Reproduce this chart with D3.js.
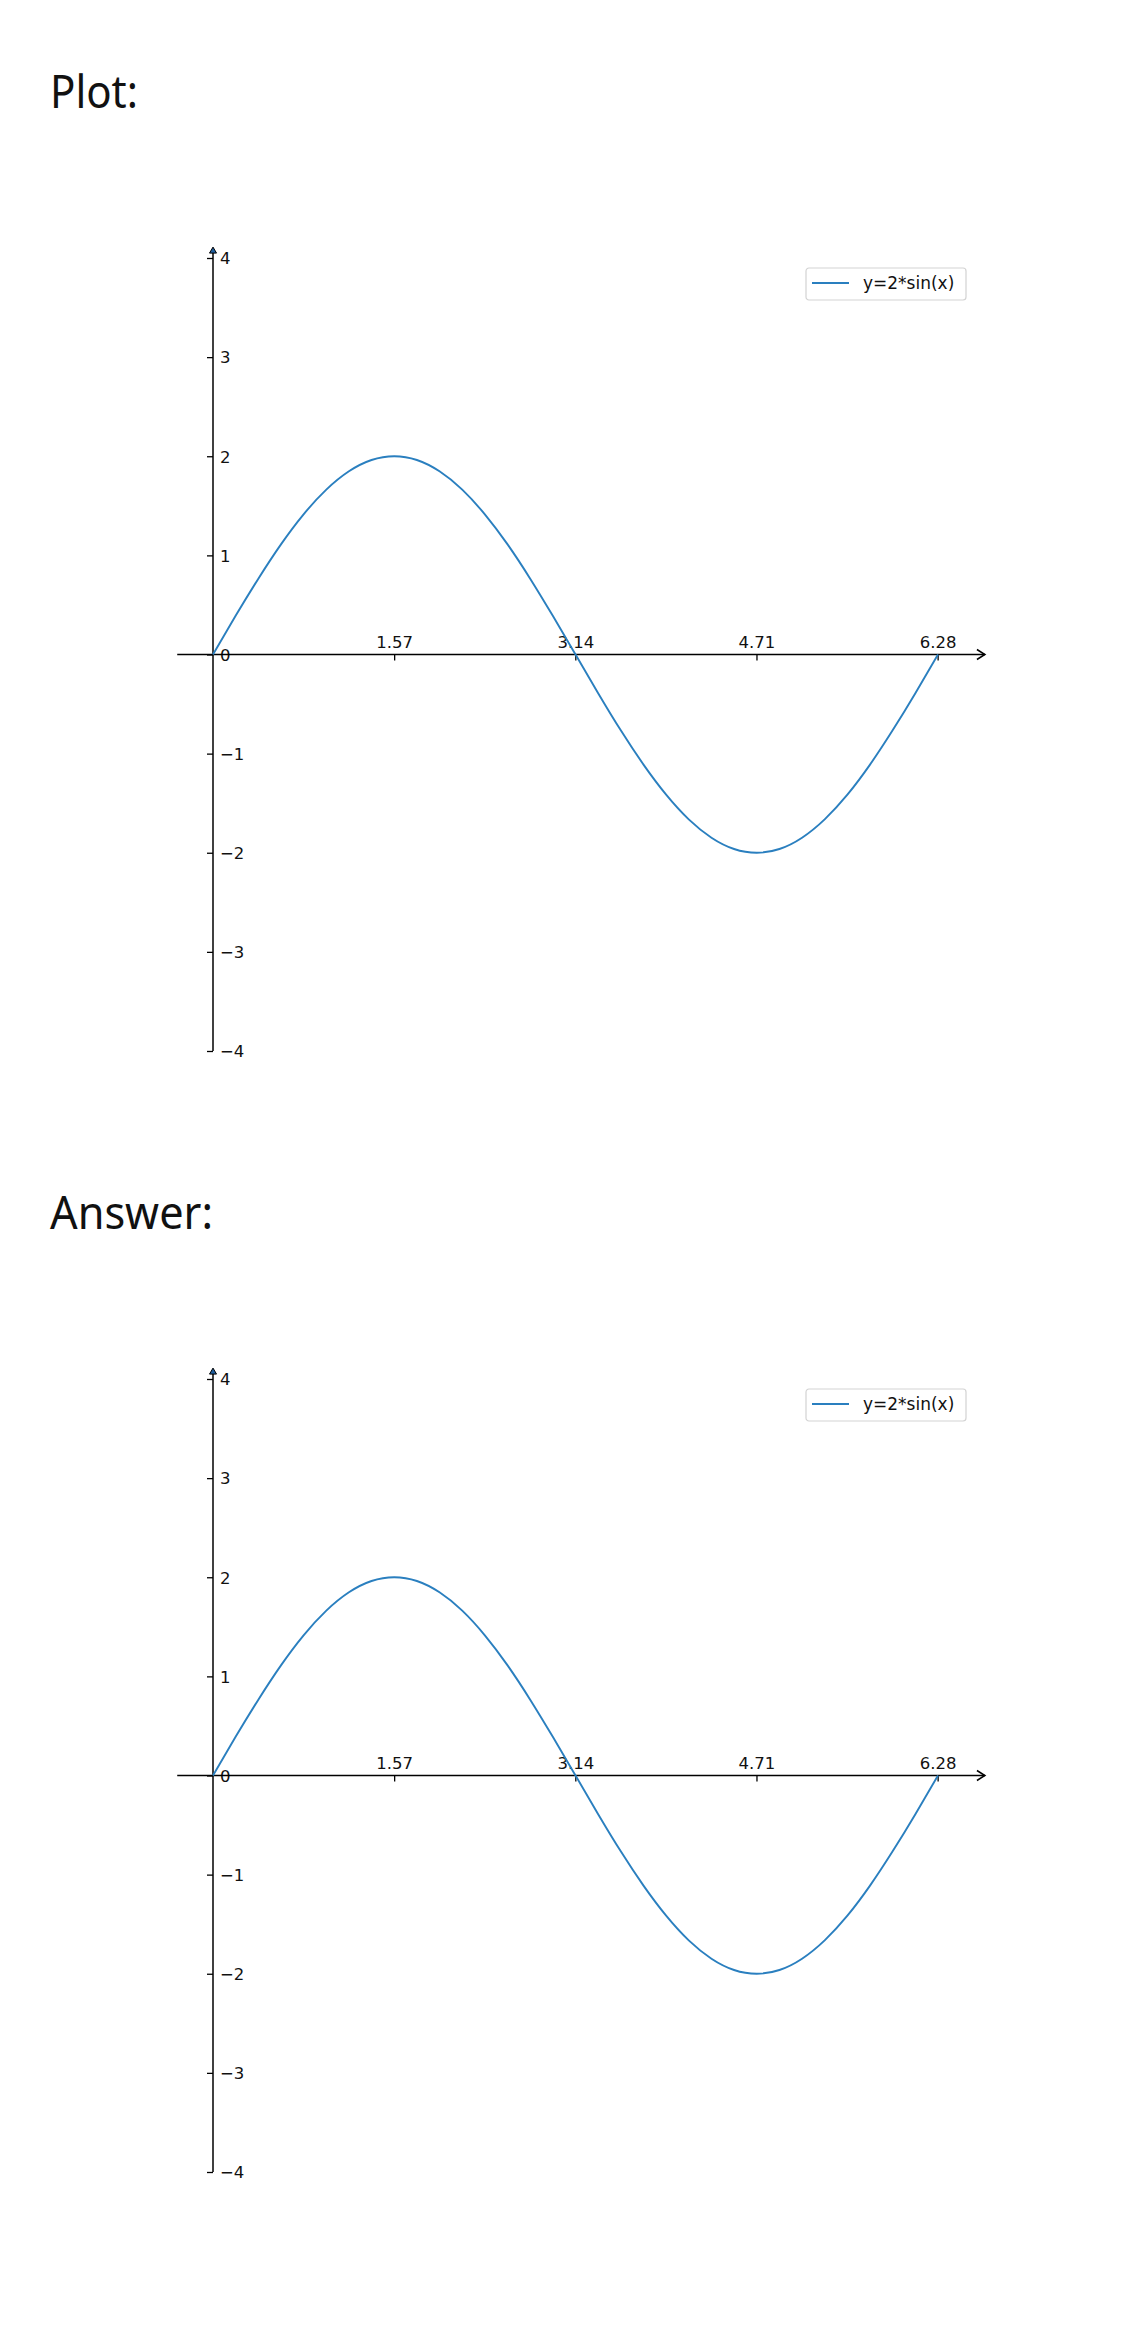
<!DOCTYPE html>
<html>
<head>
<meta charset="utf-8">
<script src="https://cdn.jsdelivr.net/npm/d3@7"></script>
<style>
  html, body { margin: 0; padding: 0; background: #fff; }
  svg { display: block; }
</style>
</head>
<body>
<svg id="chart" width="1125" height="2340"></svg>
<script>
// ---- data ----
const panelTitles = ["Plot:", "Answer:"];
const seriesName = "y=2*sin(x)";
const xValues = [0, 0.196, 0.393, 0.589, 0.785, 0.982, 1.178, 1.374, 1.571, 1.767, 1.963, 2.160, 2.356, 2.553, 2.749, 2.945, 3.142,
                 3.338, 3.534, 3.731, 3.927, 4.123, 4.320, 4.516, 4.712, 4.909, 5.105, 5.301, 5.498, 5.694, 5.890, 6.087, 6.283];
const yValues = [0, 0.390, 0.765, 1.111, 1.414, 1.663, 1.848, 1.962, 2.000, 1.962, 1.848, 1.663, 1.414, 1.111, 0.765, 0.390, 0,
                 -0.390, -0.765, -1.111, -1.414, -1.663, -1.848, -1.962, -2.000, -1.962, -1.848, -1.663, -1.414, -1.111, -0.765, -0.390, 0];
const xTickValues = [1.57, 3.14, 4.71, 6.28];
const xTickLabels = ["1.57", "3.14", "4.71", "6.28"];
const yTickValues = [4, 3, 2, 1, 0, -1, -2, -3, -4];
const yTickLabels = ["4", "3", "2", "1", "0", "\u22121", "\u22122", "\u22123", "\u22124"];
const xDomain = [0, 6.2832];
const yDomain = [-4, 4];
const xAxisExtent = [-0.31, 6.69];
const yAxisExtent = [-4, 4.11];

// ---- layout ----
const panelOffsets = [0, 1121];
const lineColor = "#2a7fbf";
const svg = d3.select("#chart");

const points = xValues.map((x, i) => ({ x, y: yValues[i] }));

function drawPanel(title, dy) {
  const g = svg.append("g").attr("transform", `translate(0,${dy})`);

  g.append("text")
    .attr("x", 50).attr("y", 108)
    .attr("font-family", "'Noto Sans', 'Open Sans', sans-serif")
    .attr("font-size", 45)
    .attr("fill", "#111")
    .attr("textLength", title === "Plot:" ? 88 : 163)
    .attr("lengthAdjust", "spacingAndGlyphs")
    .text(title);

  const x = d3.scaleLinear().domain(xDomain).range([213, 938]);
  const y = d3.scaleLinear().domain(yDomain).range([1051, 258]);

  const y0 = y(0), x0 = x(0);

  // x axis ticks (labels above the axis line)
  const xa = g.append("g").attr("transform", `translate(0,${y0})`)
    .call(d3.axisBottom(x).tickValues(xTickValues).tickFormat((d, i) => xTickLabels[i]).tickSize(6).tickSizeOuter(0));
  xa.select(".domain").remove();
  xa.selectAll(".tick line").attr("stroke", "#000").attr("stroke-width", 1.3);
  xa.selectAll(".tick text")
    .attr("y", -7).attr("dy", "0")
    .attr("font-family", "'DejaVu Sans', sans-serif")
    .attr("font-size", 16.5).attr("fill", "#111");

  // y axis ticks (labels to the right)
  const ya = g.append("g").attr("transform", `translate(${x0},0)`)
    .call(d3.axisLeft(y).tickValues(yTickValues).tickFormat((d, i) => yTickLabels[i]).tickSize(6).tickSizeOuter(0));
  ya.select(".domain").remove();
  ya.selectAll(".tick line").attr("stroke", "#000").attr("stroke-width", 1.3);
  ya.selectAll(".tick text")
    .attr("x", 7).attr("dy", "0.35em")
    .attr("text-anchor", "start")
    .attr("font-family", "'DejaVu Sans', sans-serif")
    .attr("font-size", 16.5).attr("fill", "#111");

  // axis lines
  const xEnd = x(xAxisExtent[1]);
  g.append("line")
    .attr("x1", x(xAxisExtent[0])).attr("x2", xEnd)
    .attr("y1", y0).attr("y2", y0)
    .attr("stroke", "#000").attr("stroke-width", 1.5);
  g.append("path")
    .attr("d", `M${xEnd - 8},${y0 - 5} L${xEnd},${y0} L${xEnd - 8},${y0 + 5}`)
    .attr("fill", "none").attr("stroke", "#000").attr("stroke-width", 1.5);

  const yTop = y(yAxisExtent[1]);
  g.append("line")
    .attr("x1", x0).attr("x2", x0)
    .attr("y1", y(yAxisExtent[0])).attr("y2", yTop + 4)
    .attr("stroke", "#000").attr("stroke-width", 1.5);
  g.append("path")
    .attr("d", `M${x0},${yTop} L${x0 + 3.5},${yTop + 6} L${x0 - 3.5},${yTop + 6} Z`)
    .attr("fill", "#1f5f9f").attr("stroke", "#000").attr("stroke-width", 1);

  // curve
  const line = d3.line().x(d => x(d.x)).y(d => y(d.y)).curve(d3.curveNatural);
  g.append("path")
    .datum(points)
    .attr("d", line)
    .attr("fill", "none")
    .attr("stroke", lineColor)
    .attr("stroke-width", 1.9);

  // legend
  const lg = g.append("g").attr("transform", "translate(806,268)");
  lg.append("rect")
    .attr("width", 160).attr("height", 32).attr("rx", 3)
    .attr("fill", "#fff").attr("fill-opacity", 0.85)
    .attr("stroke", "#d3d3d3").attr("stroke-width", 1.2);
  lg.append("line")
    .attr("x1", 6).attr("x2", 43).attr("y1", 15).attr("y2", 15)
    .attr("stroke", lineColor).attr("stroke-width", 1.9);
  lg.append("text")
    .attr("x", 57).attr("y", 15).attr("dy", "0.35em")
    .attr("font-family", "'DejaVu Sans', sans-serif")
    .attr("font-size", 17).attr("fill", "#111")
    .text(seriesName);
}

panelTitles.forEach((t, i) => drawPanel(t, panelOffsets[i]));
</script>
</body>
</html>
